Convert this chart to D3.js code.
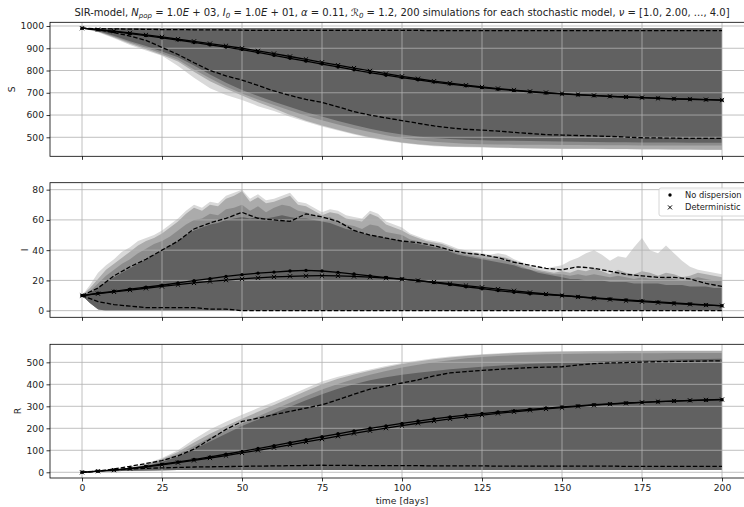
<!DOCTYPE html>
<html><head><meta charset="utf-8">
<script src="https://cdn.jsdelivr.net/npm/d3@7"></script>
<style>body{margin:0;background:#fff} svg{display:block} text{font-family:"DejaVu Sans",sans-serif}</style>
</head><body><svg id="c" width="744" height="507"></svg>
<script>
// ---------- data ----------
const daysCoarse = d3.range(0, 201, 5);     // 41 points
const daysFine = d3.range(0, 201, 2.5);     // 81 points
const xTicks = [0, 25, 50, 75, 100, 125, 150, 175, 200];
const sTicks = [500, 600, 700, 800, 900, 1000];
const iTicks = [0, 20, 40, 60, 80];
const rTicks = [0, 100, 200, 300, 400, 500];

// S : envelopes of the four stochastic models (max is the same for all)
const S_max = [990,990,990,990,990,990,990,990,990,990,990,990,990,990,990,990,990,990,990,990,990,990,990,990,990,990,990,990,990,990,990,990,990,990,990,990,990,990,990,990,990];
const S_min_nu1 = [990,972,945,915,890,866,820,768,720,690,668,640,618,592,570,548,530,512,497,485,474,466,460,457,455,454,452,451,450,449,448,447,447,446,446,445,445,444,444,443,443];
const S_min_nu2 = [990,974,948,920,895,870,840,795,752,718,688,657,630,600,574,553,534,516,500,488,477,469,463,459,457,456,454,452,451,450,449,448,448,447,447,446,446,445,445,444,444];
const S_min_nu3 = [990,976,952,926,902,876,848,805,765,728,697,670,645,620,597,577,558,540,524,509,496,487,480,475,471,469,468,467,466,466,465,465,464,464,464,463,463,463,463,463,463];
const S_min_nu4 = [990,978,956,932,910,885,860,822,782,745,713,686,660,636,613,593,573,555,538,524,513,504,497,492,489,487,485,484,483,482,481,480,479,478,478,477,477,477,476,476,476];
const S_q_hi = [990,988,987,986,985,984,984,983,983,982,981,980,980,980,980,980,980,980,980,980,980,980,979,979,979,979,979,979,979,979,979,979,979,979,979,979,979,979,979,979,979];
const S_q_lo = [990,983,970,955,935,904,872,835,800,776,757,733,708,688,670,657,637,615,600,587,575,563,551,542,536,532,528,522,517,512,510,508,506,504,501,498,497,496,495,495,495];
const S_mean = [990,983,975,966,957,947,937,926,915,905,894,881,868,855,842,829,816,803,791,779,768,758,748,739,731,723,716,710,704,699,695,691,687,684,681,678,676,673,671,669,667];
const S_det = [990,984,977,969,960,951,941,931,921,911,900,888,876,863,850,837,824,811,798,786,774,763,752,743,734,726,719,712,706,701,696,692,688,684,681,678,675,673,671,669,667];

// I : envelopes (fine resolution)
const I_min = [10,5,1,0,0,0,0,0,0,0,0,0,0,0,0,0,0,0,0,0,0,0,0,0,0,0,0,0,0,0,0,0,0,0,0,0,0,0,0,0,0,0,0,0,0,0,0,0,0,0,0,0,0,0,0,0,0,0,0,0,0,0,0,0,0,0,0,0,0,0,0,0,0,0,0,0,0,0,0,0,0];
const I_max_nu1 = [10,17,25,30,34,39,42,46,48,50,53,57,61,66,70,68,72,71,76,78,80,74,77,73,74,76,78,72,71,68,65,67,66,63,62,61,66,64,59,57,55,51,49,47,46,45,43,41,40,39,38,37,38,37,34,32,30,29,28,29,30,33,35,38,40,37,33,36,35,42,48,40,38,43,38,33,29,27,26,25,24];
const I_max_nu2 = [10,15,21,27,31,35,39,43,46,48,51,55,59,64,68,66,70,69,74,76,79,72,75,71,72,74,76,70,69,66,63,65,64,61,60,59,64,62,57,55,53,50,48,46,45,44,42,40,39,38,37,36,36,35,33,31,29,27,26,25,26,25,27,26,28,26,24,27,25,24,26,25,23,25,24,22,23,25,24,23,22];
const I_max_nu3 = [10,13,18,23,27,31,34,38,41,44,46,49,53,57,60,61,64,63,67,68,70,66,69,65,68,70,69,66,65,63,61,62,59,57,56,54,57,56,52,51,50,47,46,44,43,42,40,38,37,36,35,34,34,33,31,29,27,26,25,24,24,23,24,23,24,23,22,23,22,21,22,21,21,22,21,20,21,22,21,20,20];
const I_max_nu4 = [10,12,15,19,22,25,28,31,34,37,40,43,46,50,53,55,57,58,60,61,62,61,62,61,62,63,62,61,61,60,59,58,56,54,53,51,50,49,48,47,46,45,44,43,42,41,39,37,36,35,34,33,32,31,30,28,27,25,24,23,22,21,21,20,20,20,19,19,19,18,18,18,18,17,17,17,16,16,16,15,15];
const I_q_hi = [10,15,23,29,34,40,46,54,58,61,65,61,60,59,64,62,59,53,50,48,46,45,43,40,38,37,35,32,30,28,27,29,28,26,24,23,22,22,21,18,16];
const I_q_lo = [10,6,4,3,2,2,2,2,1,1,0,0,0,0,0,0,0,0,0,0,0,0,0,0,0,0,0,0,0,0,0,0,0,0,0,0,0,0,0,0,0];
const I_mean = [10,11.5,12.8,14.2,15.5,16.8,18.3,19.8,21.2,22.6,23.8,24.8,25.5,26.2,26.6,26.2,25.3,24.2,23.0,21.9,20.9,19.8,18.6,17.3,15.8,14.5,13.3,12.2,11.2,10.6,10.0,9.2,8.4,7.7,7.1,6.5,5.8,5.1,4.4,3.8,3.2];
const I_det = [10,11.2,12.4,13.6,14.8,16.0,17.2,18.3,19.3,20.2,21.0,21.7,22.3,22.7,23.0,23.1,23.0,22.6,22.1,21.5,20.8,19.9,18.9,17.8,16.6,15.4,14.2,13.1,12.0,11.0,10.0,9.1,8.2,7.4,6.6,5.9,5.3,4.7,4.2,3.7,3.3];

// R
const R_min = [0,3,5,7,8,9,10,10,10,10,10,10,10,10,10,10,10,10,10,10,10,10,10,10,10,10,10,10,10,10,10,10,10,10,10,10,10,10,10,10,10];
const R_max_nu1 = [0,3,10,22,40,65,100,150,195,230,262,292,320,350,382,413,435,452,467,483,497,508,518,526,532,537,541,545,548,550,551,552,552,553,553,553,554,554,554,554,554];
const R_max_nu2 = [0,2,9,20,37,60,92,135,175,210,243,275,306,338,370,400,425,445,462,478,492,504,514,522,529,534,538,542,545,547,548,549,550,550,551,551,551,552,552,552,552];
const R_max_nu3 = [0,2,8,18,33,55,83,120,158,190,222,254,285,316,347,376,402,424,444,461,476,489,500,510,518,524,529,532,535,537,538,539,540,540,541,541,541,542,542,542,542];
const R_max_nu4 = [0,1,7,15,28,47,72,105,140,175,210,240,270,298,328,355,380,400,418,432,444,453,461,468,474,480,485,489,493,496,499,502,504,506,508,510,511,513,514,515,516];
const R_q_hi = [0,5,15,27,40,53,75,105,150,195,231,246,262,277,292,307,330,355,378,392,406,420,438,452,458,463,468,472,476,478,480,488,494,497,499,501,503,504,505,506,507];
const R_q_lo = [0,6,11,15,18,20,22,24,25,26,27,28,29,30,31,32,31,31,30,30,30,30,29,29,29,29,28,28,28,28,28,28,28,28,27,27,27,27,27,27,27];
const R_mean = [0,5,11,18,27,37,47,58,70,82,95,108,121,135,148,162,175,188,200,211,222,233,243,252,260,267,274,280,286,292,297,302,307,311,315,318,321,324,326,328,330];
const R_det = [0,5,10,17,25,34,44,54,65,76,88,100,112,125,138,151,164,177,189,201,212,223,233,243,252,260,268,275,282,288,294,300,305,310,314,318,321,324,327,329,331];

const legendLabels = ["No dispersion", "Deterministic"];

// ---------- drawing ----------
const svg = d3.select("#c");
const x = d3.scaleLinear().domain([-10, 210]).range([50, 754]);
const fillColors = ["#d9d9d9", "#ababab", "#8c8c8c", "#616161"];
const FS = "9.2px";

const panels = [
  {name: "S", top: 22.3, bottom: 156.3, domain: [414.6, 1016.6], ticks: sTicks, labelX: 12,
   days: daysCoarse, lo: [S_min_nu1, S_min_nu2, S_min_nu3, S_min_nu4], hi: [S_max, S_max, S_max, S_max],
   qhi: S_q_hi, qlo: S_q_lo, mean: S_mean, det: S_det},
  {name: "I", top: 182.7, bottom: 317.3, domain: [-4.4, 84.6], ticks: iTicks, labelX: 25,
   days: daysFine, lo: [I_min, I_min, I_min, I_min], hi: [I_max_nu1, I_max_nu2, I_max_nu3, I_max_nu4],
   qhi: I_q_hi, qlo: I_q_lo, mean: I_mean, det: I_det},
  {name: "R", top: 344.3, bottom: 478, domain: [-26, 582], ticks: rTicks, labelX: 18,
   days: daysCoarse, lo: [R_min, R_min, R_min, R_min], hi: [R_max_nu1, R_max_nu2, R_max_nu3, R_max_nu4],
   qhi: R_q_hi, qlo: R_q_lo, mean: R_mean, det: R_det}
];

panels.forEach((p, pi) => {
  const y = d3.scaleLinear().domain(p.domain).range([p.bottom, p.top]);
  const clipId = "clip" + pi;
  svg.append("clipPath").attr("id", clipId).append("rect")
    .attr("x", 50).attr("y", p.top).attr("width", 704).attr("height", p.bottom - p.top);
  const g = svg.append("g").attr("clip-path", `url(#${clipId})`);

  // envelopes
  for (let k = 0; k < 4; k++) {
    const lo = p.lo[k], hi = p.hi[k];
    const area = d3.area()
      .x((d, i) => x(p.days[i]))
      .y0((d, i) => y(lo[i]))
      .y1((d, i) => y(hi[i]));
    g.append("path").datum(p.days).attr("d", area).attr("fill", fillColors[k]).attr("stroke", "none");
  }

  // grid
  g.selectAll(null).data(xTicks).enter().append("line")
    .attr("x1", d => x(d)).attr("x2", d => x(d)).attr("y1", p.top).attr("y2", p.bottom)
    .attr("stroke", "#b0b0b0").attr("stroke-width", 0.8);
  g.selectAll(null).data(p.ticks).enter().append("line")
    .attr("x1", 50).attr("x2", 754).attr("y1", d => y(d)).attr("y2", d => y(d))
    .attr("stroke", "#b0b0b0").attr("stroke-width", 0.8);

  // quantile (dashed) lines
  const line = arr => d3.line().x((d, i) => x(daysCoarse[i])).y(d => y(d))(arr);
  [p.qhi, p.qlo].forEach(arr => {
    g.append("path").attr("d", line(arr)).attr("fill", "none").attr("stroke", "#000")
      .attr("stroke-width", 1.3).attr("stroke-dasharray", "4.5,2");
  });

  // mean lines
  [p.det, p.mean].forEach(arr => {
    g.append("path").attr("d", line(arr)).attr("fill", "none").attr("stroke", "#000").attr("stroke-width", 1.3);
  });
  g.selectAll(null).data(p.mean).enter().append("circle")
    .attr("cx", (d, i) => x(daysCoarse[i])).attr("cy", d => y(d)).attr("r", 1.7).attr("fill", "#000");
  const xs = 2.1;
  g.selectAll(null).data(p.det).enter().append("path")
    .attr("d", (d, i) => {
      const cx = x(daysCoarse[i]), cy = y(d);
      return `M${cx - xs},${cy - xs}L${cx + xs},${cy + xs}M${cx - xs},${cy + xs}L${cx + xs},${cy - xs}`;
    })
    .attr("stroke", "#000").attr("stroke-width", 1);

  // spines
  svg.append("rect").attr("x", 50).attr("y", p.top).attr("width", 704).attr("height", p.bottom - p.top)
    .attr("fill", "none").attr("stroke", "#000").attr("stroke-width", 0.8);

  // axes
  const ya = svg.append("g").attr("transform", "translate(50,0)")
    .call(d3.axisLeft(y).tickValues(p.ticks).tickSize(3.5).tickPadding(2.5).tickFormat(d3.format("d")));
  const xa = svg.append("g").attr("transform", `translate(0,${p.bottom})`)
    .call(d3.axisBottom(x).tickValues(xTicks).tickSize(3.5).tickPadding(2.5)
      .tickFormat(pi === 2 ? d3.format("d") : () => ""));
  [ya, xa].forEach(a => {
    a.select(".domain").remove();
    a.selectAll("line").attr("stroke", "#000").attr("stroke-width", 0.8);
    a.selectAll("text").attr("font-size", FS).attr("fill", "#222").attr("font-family", "DejaVu Sans, sans-serif");
  });

  svg.append("text").attr("transform", `translate(${p.labelX},${(p.top + p.bottom) / 2}) rotate(-90)`)
    .attr("text-anchor", "middle").attr("dominant-baseline", "middle")
    .attr("font-size", FS).attr("fill", "#222").text(p.name);
});

// x label
svg.append("text").attr("x", 402).attr("y", 503.5).attr("text-anchor", "middle")
  .attr("font-size", FS).attr("fill", "#222").text("time [days]");

// title
const title = svg.append("text").attr("x", 402).attr("y", 16).attr("text-anchor", "middle")
  .attr("font-size", "10px").attr("fill", "#222");
const parts = [
  ["SIR-model, "], ["N", "i"], ["pop", "sub"], [" = 1.0"], ["E", "i"], [" + 03, "],
  ["I", "i"], ["0", "sub"], [" = 1.0"], ["E", "i"], [" + 01, "], ["α", "i"], [" = 0.11, "],
  ["ℛ"], ["0", "sub"], [" = 1.2, 200 simulations for each stochastic model, "], ["ν", "i"],
  [" = [1.0, 2.00, ..., 4.0]"]
];
let shifted = false;
parts.forEach(([t, s]) => {
  const ts = title.append("tspan").text(t);
  if (s === "i") ts.attr("font-style", "italic");
  if (s === "sub") { ts.attr("font-size", "7px").attr("font-style", "italic").attr("dy", shifted ? 0 : 2.2); shifted = true; }
  else if (shifted) { ts.attr("dy", -2.2); shifted = false; }
});

// legend
const lg = svg.append("g");
lg.append("rect").attr("x", 659).attr("y", 188).attr("width", 110).attr("height", 28).attr("rx", 2)
  .attr("fill", "#fff").attr("fill-opacity", 0.8).attr("stroke", "#ccc").attr("stroke-width", 0.8);
lg.append("circle").attr("cx", 670).attr("cy", 195).attr("r", 1.7).attr("fill", "#000");
lg.append("path").attr("d", "M668,205.4L672,209.4M668,209.4L672,205.4").attr("stroke", "#000").attr("stroke-width", 1);
legendLabels.forEach((t, i) => {
  lg.append("text").attr("x", 685).attr("y", 195 + i * 12.5).attr("dominant-baseline", "middle")
    .attr("font-size", "8.3px").attr("fill", "#222").text(t);
});
</script></body></html>
